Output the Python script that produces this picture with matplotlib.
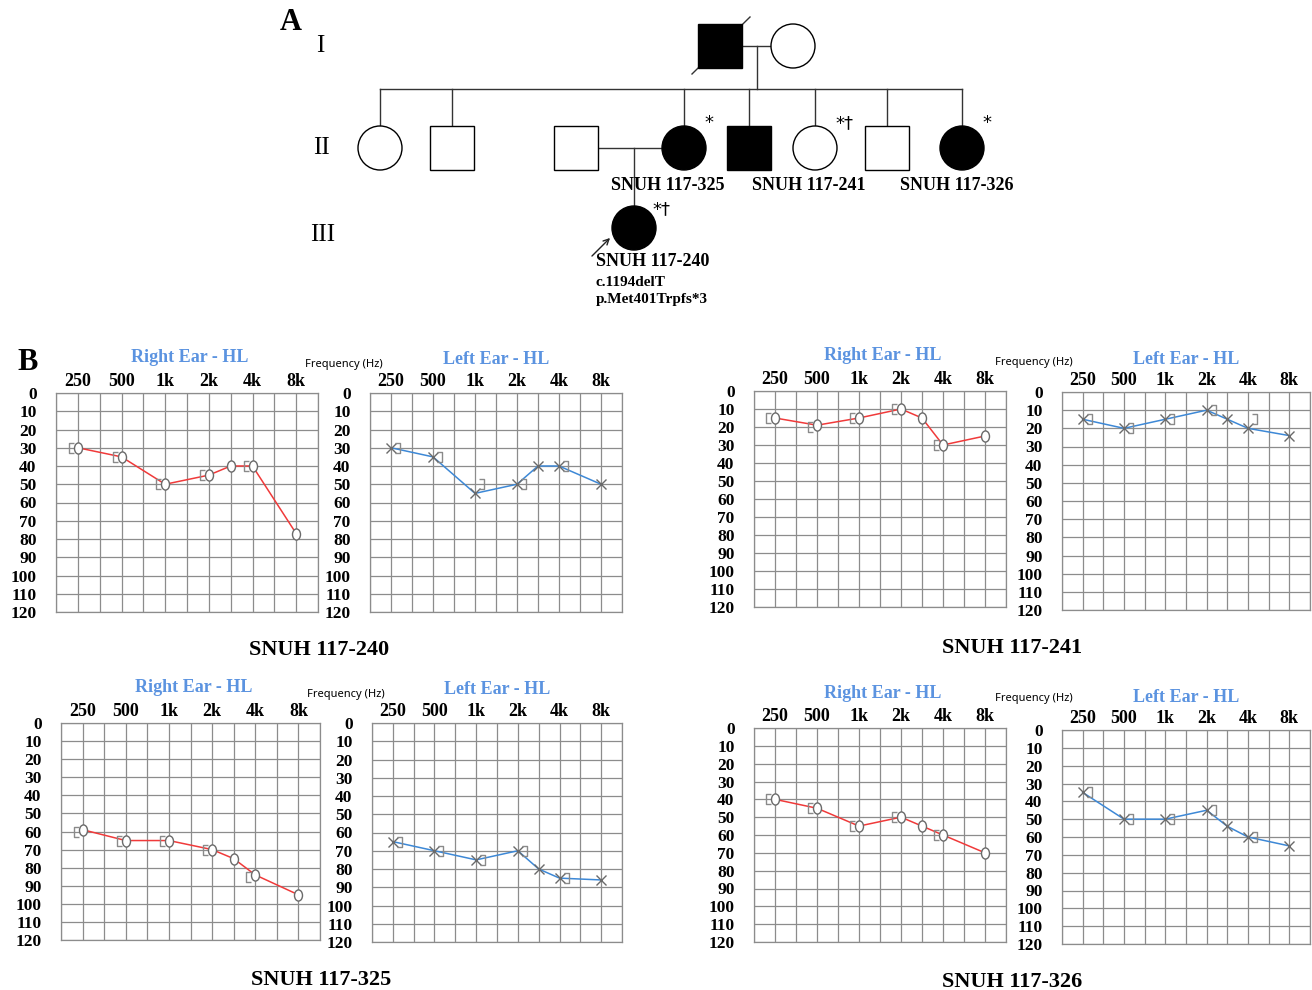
import numpy as np
import matplotlib
matplotlib.use('Agg')
import matplotlib.pyplot as plt
import matplotlib.patches as patches
from matplotlib.path import Path
from matplotlib.transforms import Affine2D

plt.rcParams['font.family'] = ['Liberation Serif', 'DejaVu Serif']

# ---- audiogram data (dB HL) ----
freqs_air = [250, 500, 1000, 2000, 3000, 4000, 8000]
freqs_bone = [250, 500, 1000, 2000, 4000]
freq_ticks = [250, 500, 1000, 2000, 4000, 8000]
freq_labels = ['250', '500', '1k', '2k', '4k', '8k']
db_ticks = list(range(0, 121, 10))

r240_air = [30, 35, 50, 45, 40, 40, 77]
r240_bone = [30, 35, 50, 45, 40]
l240_air = [30, 35, 55, 50, 40, 40, 50]
l240_bone = [30, 35, 50, 50, 40]

r241_air = [15, 19, 15, 10, 15, 30, 25]
r241_bone = [15, 20, 15, 10, 30]
l241_air = [15, 20, 15, 10, 15, 20, 24]
l241_bone = [15, 20, 15, 10, 15]

r325_air = [59, 65, 65, 70, 75, 84, 95]
r325_bone = [60, 65, 65, 70, 85]
l325_air = [65, 70, 75, 70, 80, 85, 86]
l325_bone = [65, 70, 75, 70, 85]

r326_air = [40, 45, 55, 50, 55, 60, 70]
r326_bone = [40, 45, 55, 50, 60]
l326_air = [35, 50, 50, 45, 54, 60, 65]
l326_bone = [35, 50, 50, 45, 60]

patients = ['SNUH 117-240', 'SNUH 117-241', 'SNUH 117-325', 'SNUH 117-326']

# ---- pedigree data ----
gen2_sex = ['f', 'm', 'f', 'm', 'f', 'm', 'f']
gen2_affected = [False, False, True, True, False, False, True]
gen2_marks = ['', '', '*', '', '*\u2020', '', '*']
gen2_ids = ['', '', 'SNUH 117-325', '', 'SNUH 117-241', '', 'SNUH 117-326']
proband_id = 'SNUH 117-240'
proband_variant = ['c.1194delT', 'p.Met401Trpfs*3']

W, H = 1312, 990
fig = plt.figure(figsize=(W / 100, H / 100), dpi=100)

# overlay in pixel coordinates for pedigree and free text
ov = fig.add_axes([0, 0, 1, 1])
ov.set_xlim(0, W)
ov.set_ylim(H, 0)
ov.axis('off')

RED = '#f03a3a'
BLUE = '#3d88d6'
TITLE_BLUE = '#5b93e0'
MK = '#6a6a6a'
GRID = '#8c8c8c'


def person(x, y, sex, affected):
    fc = 'black' if affected else 'white'
    if sex == 'm':
        p = patches.Rectangle((x - 22, y - 22), 44, 44, fc=fc, ec='black', lw=1, zorder=2)
    else:
        p = patches.Ellipse((x, y), 44, 44, fc=fc, ec='black', lw=1, zorder=2)
    ov.add_patch(p)


def seg(x0, y0, x1, y1, z=1):
    ov.plot([x0, x1], [y0, y1], color='#333333', lw=1, zorder=z)


# ---- pedigree (A) ----
ov.text(291, 22, 'A', fontsize=22, fontweight='bold', ha='center', va='center')
ov.text(320, 46, 'I', fontsize=18, ha='center', va='center')
ov.text(321, 148, 'II', fontsize=18, ha='center', va='center')
ov.text(323, 235, 'III', fontsize=18, ha='center', va='center')

gen1_y, gen2_y, gen3_y, sib_y = 46, 148, 228, 89
seg(742, gen1_y, 771, gen1_y)
seg(757, gen1_y, 757, sib_y)
gen2_x = [380, 452, 684, 749, 815, 887, 962]
label_x = [380, 452, 668, 749, 809, 887, 957]
seg(gen2_x[0], sib_y, gen2_x[-1], sib_y)
person(720, gen1_y, 'm', True)
person(793, gen1_y, 'f', False)
seg(692, 74, 750, 17, z=1)

for x, lx, s, a, m, lab in zip(gen2_x, label_x, gen2_sex, gen2_affected, gen2_marks, gen2_ids):
    seg(x, sib_y, x, gen2_y - 22)
    person(x, gen2_y, s, a)
    if m:
        ov.text(x + 20, gen2_y - 25, m, fontsize=13, family='DejaVu Sans',
                ha='left', va='center')
    if lab:
        ov.text(lx, gen2_y + 37, lab, fontsize=13, fontweight='bold',
                ha='center', va='center')

# spouse and proband
person(576, gen2_y, 'm', False)
seg(598, gen2_y, 662, gen2_y)
seg(634, gen2_y, 634, gen3_y - 22)
person(634, gen3_y, 'f', True)
ov.text(652, gen3_y - 19, '*\u2020', fontsize=13, family='DejaVu Sans',
        ha='left', va='center')
ov.annotate('', xy=(612, 236), xytext=(590, 258),
            arrowprops=dict(arrowstyle='->', color='#222222', lw=1))
ov.text(596, 262, proband_id, fontsize=13, fontweight='bold', ha='left', va='center')
ov.text(596, 282, proband_variant[0], fontsize=11, fontweight='bold', ha='left', va='center')
ov.text(596, 300, proband_variant[1], fontsize=11, fontweight='bold', ha='left', va='center')

ov.text(28, 362, 'B', fontsize=22, fontweight='bold', ha='center', va='center')

# ---- audiogram scale: half-octave grid with 3k midway between 2k and 4k ----
anchor_f = np.log2([125, 250, 500, 1000, 2000, 3000, 4000, 8000, 16000])
anchor_x = np.array([-1, 1, 3, 5, 7, 8, 9, 11, 13])


def fwd(f):
    f = np.clip(np.asarray(f, dtype=float), 1, None)
    return np.interp(np.log2(f), anchor_f, anchor_x)


def inv(x):
    return 2 ** np.interp(np.asarray(x, dtype=float), anchor_x, anchor_f)


circle_path = Path.unit_circle().transformed(Affine2D().scale(0.72, 1.0))
br_left = Path([(0.5, 0.5), (-0.2, 0.27), (-0.45, 0.27), (-0.45, -0.27), (-0.2, -0.27)],
               [Path.MOVETO, Path.MOVETO, Path.LINETO, Path.LINETO, Path.LINETO])
br_right = Path([(-0.5, 0.5), (0.2, 0.27), (0.45, 0.27), (0.45, -0.27), (0.2, -0.27)],
                [Path.MOVETO, Path.MOVETO, Path.LINETO, Path.LINETO, Path.LINETO])


def audiogram(box, air, bone, side):
    x0, y0, x1, y1 = box
    ax = fig.add_axes([x0 / W, 1 - y1 / H, (x1 - x0) / W, (y1 - y0) / H])
    ax.set_xscale('function', functions=(fwd, inv))
    ax.set_xlim(inv(0), inv(12))
    ax.set_ylim(120, 0)
    ax.set_xticks(freq_ticks)
    ax.set_xticklabels(freq_labels)
    ax.set_xticks(inv(np.arange(13)), minor=True)
    ax.set_yticks(db_ticks)
    ax.xaxis.tick_top()
    ax.grid(True, which='both', color=GRID, lw=0.9)
    ax.tick_params(which='both', length=0)
    ax.tick_params(axis='x', labelsize=13, pad=2)
    ax.tick_params(axis='y', labelsize=12.5, pad=14)
    for t in ax.get_xticklabels() + ax.get_yticklabels():
        t.set_fontweight('bold')
    for s in ax.spines.values():
        s.set_color(GRID)
        s.set_linewidth(0.9)
    if side == 'R':
        ax.plot(freqs_air, air, color=RED, lw=1.1, zorder=3)
        ax.plot(freqs_air, air, ls='none', marker=circle_path, ms=8, mfc='white',
                mec=MK, mew=1, zorder=4)
        ax.plot(freqs_bone, bone, ls='none', marker=br_left, ms=14, mfc='none',
                mec='#8a8a8a', mew=1, zorder=4)
    else:
        ax.plot(freqs_air, air, color=BLUE, lw=1.1, zorder=3)
        ax.plot(freqs_air, air, ls='none', marker='x', ms=7.5, mec=MK, mew=1, zorder=4)
        ax.plot(freqs_bone, bone, ls='none', marker=br_right, ms=14, mfc='none',
                mec='#8a8a8a', mew=1, zorder=4)
    return ax


panels = [
    ((56, 393, 318, 612), (370, 393, 622, 612)),
    ((754, 391, 1006, 607), (1062, 392, 1310, 610)),
    ((61, 723, 320, 940), (372, 723, 622, 942)),
    ((754, 728, 1006, 942), (1062, 730, 1310, 944)),
]
air_data = [(r240_air, l240_air), (r241_air, l241_air), (r325_air, l325_air), (r326_air, l326_air)]
bone_data = [(r240_bone, l240_bone), (r241_bone, l241_bone), (r325_bone, l325_bone), (r326_bone, l326_bone)]

for (rbox, lbox), (ra, la), (rb, lb), name in zip(panels, air_data, bone_data, patients):
    audiogram(rbox, ra, rb, 'R')
    audiogram(lbox, la, lb, 'L')
    ov.text((rbox[0] + rbox[2]) / 2 + 3, rbox[1] - 35, 'Right Ear - HL', fontsize=13,
            fontweight='bold', color=TITLE_BLUE, ha='center', va='center')
    ov.text((lbox[0] + lbox[2]) / 2, lbox[1] - 33, 'Left Ear - HL', fontsize=13,
            fontweight='bold', color=TITLE_BLUE, ha='center', va='center')
    ov.text((rbox[2] + lbox[0]) / 2, rbox[1] - 29, 'Frequency (Hz)', fontsize=8,
            family='Noto Sans', fontweight='bold', ha='center', va='center')
    ov.text((rbox[0] + lbox[2]) / 2 - 20, max(rbox[3], lbox[3]) + 38, name, fontsize=16,
            fontweight='bold', ha='center', va='center')

fig.savefig('out.png', dpi=100)
